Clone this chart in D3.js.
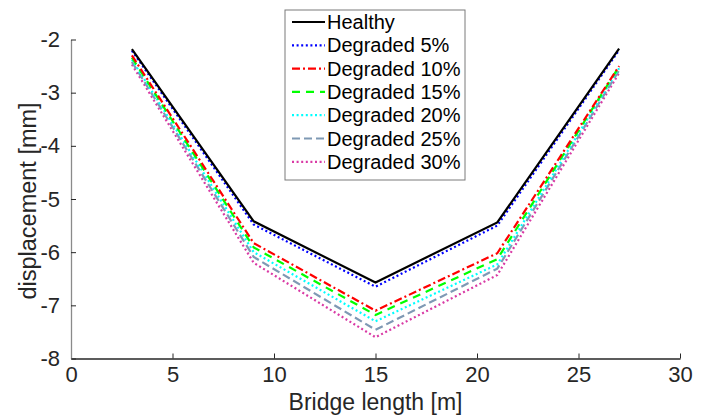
<!DOCTYPE html>
<html>
<head>
<meta charset="utf-8">
<script src="https://cdn.jsdelivr.net/npm/d3@7"></script>
<style>
  body { margin: 0; background: #fff; }
  svg { display: block; font-family: "Liberation Sans", Arial, sans-serif; }
</style>
</head>
<body>
<script>
// sensor positions along the bridge
var positions = [3, 9, 15, 21, 27];

var seriesNames = ["Healthy", "Degraded 5%", "Degraded 10%", "Degraded 15%",
                   "Degraded 20%", "Degraded 25%", "Degraded 30%"];

var healthy = [-2.18, -5.42, -6.57, -5.44, -2.17];
var deg5    = [-2.21, -5.48, -6.65, -5.50, -2.20];
var deg10   = [-2.30, -5.83, -7.10, -6.02, -2.50];
var deg15   = [-2.34, -5.91, -7.18, -6.13, -2.51];
var deg20   = [-2.38, -6.00, -7.30, -6.23, -2.54];
var deg25   = [-2.42, -6.09, -7.46, -6.31, -2.58];
var deg30   = [-2.47, -6.20, -7.60, -6.43, -2.63];

var xTicks = [0, 5, 10, 15, 20, 25, 30];
var yTicks = [-8, -7, -6, -5, -4, -3, -2];

var allSeries = [healthy, deg5, deg10, deg15, deg20, deg25, deg30];

var styles = [
  {color: "#000000", dash: null},
  {color: "#0000ff", dash: "2,2.6"},
  {color: "#ff0000", dash: "8,3,2,3"},
  {color: "#00ff00", dash: "8,6"},
  {color: "#00ffff", dash: "2,2.6"},
  {color: "#7f99b4", dash: "8,4"},
  {color: "#d93aa5", dash: "2,2.6"}
];

var w = 705, h = 417;
var margin = {top: 39.5, right: 25, bottom: 58.5, left: 71};
var width = w - margin.left - margin.right;
var height = h - margin.top - margin.bottom;

var svg = d3.select("body").append("svg")
  .attr("width", w)
  .attr("height", h);

var x = d3.scaleLinear().domain([0, 30]).range([0, width]);
var y = d3.scaleLinear().domain([-8, -2]).range([height, 0]);

var chart = svg.append("g")
  .attr("transform", "translate(" + margin.left + "," + margin.top + ")");

var fmt = function(d) { return String(d); };

// axes, ticks pointing inward like matlab
var xAxis = chart.append("g")
  .attr("transform", "translate(0," + height + ")")
  .call(d3.axisBottom(x).tickValues(xTicks).tickFormat(fmt).tickSizeInner(-5).tickSizeOuter(0).tickPadding(8));
xAxis.select(".domain").attr("stroke", "#262626").attr("stroke-width", 1.3);
xAxis.selectAll(".tick line").attr("stroke", "#262626");
xAxis.selectAll("text").attr("fill", "#262626").style("font-size", "22px");

var yAxis = chart.append("g")
  .call(d3.axisLeft(y).tickValues(yTicks).tickFormat(fmt).tickSizeInner(-5).tickSizeOuter(0).tickPadding(11));
yAxis.select(".domain").attr("stroke", "#8a8a8a").attr("stroke-width", 1.3);
yAxis.selectAll(".tick line").attr("stroke", "#262626");
yAxis.selectAll("text").attr("fill", "#262626").style("font-size", "22px");

var line = d3.line()
  .x(function(d, i) { return x(positions[i]); })
  .y(function(d) { return y(d); });

// draw from last to first so healthy sits on top
for (var k = allSeries.length - 1; k >= 0; k--) {
  chart.append("path")
    .datum(allSeries[k])
    .attr("fill", "none")
    .attr("stroke", styles[k].color)
    .attr("stroke-width", 2.2)
    .attr("stroke-dasharray", styles[k].dash)
    .attr("d", line);
}

// axis labels
svg.append("text")
  .attr("x", margin.left + width / 2)
  .attr("y", 410)
  .attr("text-anchor", "middle")
  .attr("fill", "#262626")
  .style("font-size", "23px")
  .text("Bridge length [m]");

svg.append("text")
  .attr("transform", "translate(36," + (margin.top + height / 2 + 2) + ") rotate(-90)")
  .attr("text-anchor", "middle")
  .attr("fill", "#262626")
  .style("font-size", "23.5px")
  .text("displacement [mm]");

// legend
var lg = svg.append("g").attr("transform", "translate(285,10)");
lg.append("rect")
  .attr("width", 180)
  .attr("height", 170)
  .attr("fill", "#fff")
  .attr("stroke", "#7a7a7a")
  .attr("stroke-width", 1);

seriesNames.forEach(function(name, i) {
  var ly = 12 + i * 23.3;
  lg.append("line")
    .attr("x1", 7).attr("x2", 40)
    .attr("y1", ly).attr("y2", ly)
    .attr("stroke", styles[i].color)
    .attr("stroke-width", 2.2)
    .attr("stroke-dasharray", styles[i].dash);
  lg.append("text")
    .attr("x", 42)
    .attr("y", ly + 7)
    .attr("fill", "#000")
    .style("font-size", "20px")
    .text(name);
});
</script>
</body>
</html>
